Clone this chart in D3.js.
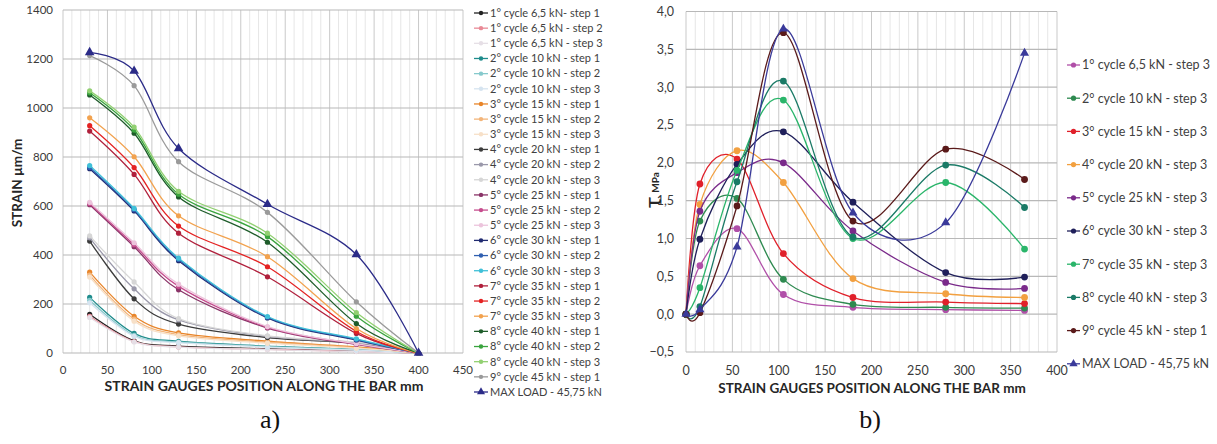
<!DOCTYPE html>
<html><head><meta charset="utf-8">
<script src="https://cdn.jsdelivr.net/npm/d3@7"></script>
<style>
body{margin:0;background:#fff;}
svg text{font-family:Lato,"Open Sans",sans-serif;}
</style></head>
<body><svg id="c" width="1217" height="444"></svg>
<script>
// ---------- LEFT CHART DATA (a) ----------
const leftPositions = [30, 80, 130, 230, 330, 400];
const leftNames = [
 "1° cycle 6,5 kN- step 1","1° cycle 6,5 kN - step 2","1° cycle 6,5 kN - step 3",
 "2° cycle 10 kN - step 1","2° cycle 10 kN - step 2","2° cycle 10 kN - step 3",
 "3° cycle 15 kN - step 1","3° cycle 15 kN - step 2","3° cycle 15 kN - step 3",
 "4° cycle 20 kN - step 1","4° cycle 20 kN - step 2","4° cycle 20 kN - step 3",
 "5° cycle 25 kN - step 1","5° cycle 25 kN - step 2","5° cycle 25 kN - step 3",
 "6° cycle 30 kN - step 1","6° cycle 30 kN - step 2","6° cycle 30 kN - step 3",
 "7° cycle 35 kN - step 1","7° cycle 35 kN - step 2","7° cycle 35 kN - step 3",
 "8° cycle 40 kN - step 1","8° cycle 40 kN - step 2","8° cycle 40 kN - step 3",
 "9° cycle 45 kN - step 1","MAX LOAD - 45,75 kN"];
const leftValues = [
 [158, 50, 28, 17, 8, 0],
 [150, 47, 25, 15, 7, 0],
 [145, 45, 24, 14, 6, 0],
 [227, 80, 48, 28, 15, 0],
 [215, 72, 45, 26, 14, 0],
 [205, 68, 42, 24, 12, 0],
 [330, 150, 82, 48, 25, 0],
 [318, 138, 75, 44, 22, 0],
 [310, 130, 70, 40, 20, 0],
 [457, 221, 118, 63, 40, 0],
 [470, 262, 135, 68, 42, 0],
 [478, 290, 140, 70, 44, 0],
 [605, 434, 258, 102, 35, 0],
 [610, 442, 272, 105, 37, 0],
 [615, 450, 281, 108, 38, 0],
 [752, 580, 377, 143, 53, 0],
 [757, 585, 382, 146, 55, 0],
 [765, 590, 387, 149, 58, 0],
 [906, 729, 489, 311, 80, 0],
 [928, 757, 518, 352, 88, 0],
 [960, 801, 560, 393, 100, 0],
 [1053, 897, 637, 452, 120, 0],
 [1062, 910, 648, 475, 150, 0],
 [1070, 922, 660, 489, 165, 0],
 [1214, 1091, 781, 574, 209, 0],
 [1227, 1151, 835, 607, 402, 0]];
const leftColors = [
 "#222222","#e98a96","#e6dfe6",
 "#1f8c8c","#86c9cc","#d6e4f0",
 "#e8852a","#f3b57a","#f7e0c8",
 "#3c3c3c","#9a98aa","#d6d6d6",
 "#8a3468","#c64d8e","#ecc4dc",
 "#1f2a70","#2f5fb0","#3fc0d8",
 "#b0203c","#e42222","#f2a24e",
 "#1e5c2a","#3aa43e","#92d072",
 "#9a9a9a","#2b2b88"];
const leftXTicks = [0,50,100,150,200,250,300,350,400,450];
const leftYTicks = [0,200,400,600,800,1000,1200,1400];

// ---------- RIGHT CHART DATA (b) ----------
const rightPositions = [0, 15, 55, 105, 180, 280, 365];
const rightNames = ["1° cycle 6,5 kN - step 3","2° cycle 10 kN - step 3","3° cycle 15 kN - step 3",
 "4° cycle 20 kN - step 3","5° cycle 25 kN - step 3","6° cycle 30 kN - step 3","7° cycle 35 kN - step 3",
 "8° cycle 40 kN - step 3","9° cycle 45 kN - step 1","MAX LOAD - 45,75 kN"];
const rightValues = [
 [0, 0.64, 1.13, 0.26, 0.09, 0.06, 0.05],
 [0, 1.23, 1.53, 0.46, 0.13, 0.09, 0.08],
 [0, 1.72, 2.05, 0.80, 0.22, 0.16, 0.14],
 [0, 1.45, 2.16, 1.74, 0.47, 0.27, 0.22],
 [0, 1.36, 1.87, 2.00, 1.10, 0.42, 0.34],
 [0, 0.99, 1.98, 2.41, 1.48, 0.55, 0.49],
 [0, 0.35, 1.90, 2.83, 1.00, 1.74, 0.86],
 [0, 0.10, 1.75, 3.08, 1.02, 1.97, 1.41],
 [0, 0.02, 1.43, 3.72, 1.23, 2.18, 1.78],
 [0, 0.06, 0.89, 3.77, 1.34, 1.21, 3.45]];
const rightColors = ["#b04fa8","#2e8a50","#e0202a","#f2a040","#7a2a8a","#1f1f5a","#2ab56a","#1a7a66","#5a1a1a","#3a3a9a"];
const rightXTicks = [0,50,100,150,200,250,300,350,400];
const rightYTicks = [-0.5,0,0.5,1,1.5,2,2.5,3,3.5,4];

const svg = d3.select("#c");
const curve = d3.curveCardinal.tension(0);

function gridAndAxes(x, y, xDom, xTicks, yTicks, fmtY, opts){
  const g = svg.append("g");
  const [y0, y1] = y.range();
  const [x0, x1] = x.range();
  g.selectAll("line.vm").data(d3.range(xDom[0], xDom[1]+0.1, 10)).join("line")
   .attr("x1", d=>x(d)).attr("x2", d=>x(d)).attr("y1", y0).attr("y2", y1)
   .attr("stroke", d=> d%50===0 ? "#c9c9c9" : "#e6e6e6").attr("stroke-width", 1);
  g.selectAll("line.h").data(yTicks).join("line")
   .attr("x1", x0).attr("x2", x1).attr("y1", d=>y(d)).attr("y2", d=>y(d))
   .attr("stroke", "#b8b8b8").attr("stroke-width", 1.2);
  g.selectAll("text.yt").data(yTicks).join("text")
   .attr("x", opts.yLabX).attr("y", d=>y(d)).attr("dy","0.35em").attr("text-anchor","end")
   .attr("font-size", opts.fs).attr("fill","#3a3a3a").text(fmtY);
  g.selectAll("text.xt").data(xTicks).join("text")
   .attr("x", d=>x(d)).attr("y", opts.xLabY).attr("text-anchor","middle")
   .attr("font-size", opts.fs).attr("fill","#3a3a3a").text(d=>d);
}

// ---------- LEFT ----------
const xL = d3.scaleLinear([0,450],[63,463]);
const yL = d3.scaleLinear([0,1400],[353,10]);
gridAndAxes(xL, yL, [0,450], leftXTicks, leftYTicks, d=>d, {yLabX:53, xLabY:374, fs:11.5});

const lineL = d3.line().x((d,i)=>xL(leftPositions[i])).y(d=>yL(d)).curve(curve);
const tri = d3.symbol().type(d3.symbolTriangle);
leftValues.forEach((vals, k)=>{
  const g = svg.append("g");
  g.append("path").attr("d", lineL(vals)).attr("fill","none")
   .attr("stroke", leftColors[k]).attr("stroke-width", 1.3);
  if (k === leftValues.length-1){
    g.selectAll("path.m").data(vals).join("path")
     .attr("d", tri.size(40)()).attr("transform",(d,i)=>`translate(${xL(leftPositions[i])},${yL(d)})`)
     .attr("fill", leftColors[k]);
  } else {
    g.selectAll("circle").data(vals).join("circle")
     .attr("cx",(d,i)=>xL(leftPositions[i])).attr("cy", d=>yL(d)).attr("r", 2.6)
     .attr("fill", leftColors[k]);
  }
});
const legL = svg.append("g");
leftNames.forEach((n,k)=>{
  const yy = 13 + k*15.16;
  legL.append("line").attr("x1",474).attr("x2",488).attr("y1",yy).attr("y2",yy)
   .attr("stroke", leftColors[k]).attr("stroke-width",1.3);
  if (k === leftNames.length-1)
    legL.append("path").attr("d", tri.size(28)()).attr("transform",`translate(481,${yy})`).attr("fill",leftColors[k]);
  else
    legL.append("circle").attr("cx",481).attr("cy",yy).attr("r",2.2).attr("fill",leftColors[k]);
  legL.append("text").attr("x",490).attr("y",yy).attr("dy","0.35em").attr("font-size",11)
   .attr("fill","#404040").text(n);
});
svg.append("text").attr("transform","translate(22,183) rotate(-90)").attr("text-anchor","middle")
 .attr("font-size",13.5).attr("font-weight","bold").attr("fill","#262626").text("STRAIN  µm/m");
svg.append("text").attr("x",264).attr("y",391).attr("text-anchor","middle")
 .attr("font-size",14).attr("font-weight","bold").attr("fill","#262626").text("STRAIN GAUGES POSITION ALONG THE BAR mm");
svg.append("text").attr("x",270).attr("y",428).attr("text-anchor","middle")
 .style("font-family","'Liberation Serif',serif").attr("font-size",26).attr("fill","#111").text("a)");

// ---------- RIGHT ----------
const xR = d3.scaleLinear([0,400],[686,1057]);
const yR = d3.scaleLinear([-0.5,4],[352,11.5]);
gridAndAxes(xR, yR, [0,400], rightXTicks, rightYTicks, d=>d3.format(".1f")(d).replace(".",","), {yLabX:674, xLabY:375, fs:12.5});

const lineR = d3.line().x((d,i)=>xR(rightPositions[i])).y(d=>yR(d)).curve(curve);
rightValues.forEach((vals,k)=>{
  const g = svg.append("g");
  g.append("path").attr("d", lineR(vals)).attr("fill","none")
   .attr("stroke", rightColors[k]).attr("stroke-width", 1.3);
  if (k === rightValues.length-1){
    g.selectAll("path.m").data(vals).join("path")
     .attr("d", tri.size(36)()).attr("transform",(d,i)=>`translate(${xR(rightPositions[i])},${yR(d)})`)
     .attr("fill", rightColors[k]);
  } else {
    g.selectAll("circle").data(vals).join("circle")
     .attr("cx",(d,i)=>xR(rightPositions[i])).attr("cy", d=>yR(d)).attr("r", 3.4)
     .attr("fill", rightColors[k]);
  }
});
const legR = svg.append("g");
rightNames.forEach((n,k)=>{
  const yy = 65 + k*33.2;
  legR.append("line").attr("x1",1067).attr("x2",1080).attr("y1",yy).attr("y2",yy)
   .attr("stroke", rightColors[k]).attr("stroke-width",1.3);
  if (k === rightNames.length-1)
    legR.append("path").attr("d", tri.size(30)()).attr("transform",`translate(1073.5,${yy})`).attr("fill",rightColors[k]);
  else
    legR.append("circle").attr("cx",1073.5).attr("cy",yy).attr("r",2.6).attr("fill",rightColors[k]);
  legR.append("text").attr("x",1082).attr("y",yy).attr("dy","0.35em").attr("font-size",12.5)
   .attr("fill","#404040").text(n);
});
const tl = svg.append("text").attr("transform","translate(661,190) rotate(-90)").attr("text-anchor","middle").attr("fill","#262626");
tl.append("tspan").attr("font-size",24).text("τ");
tl.append("tspan").attr("font-size",10).attr("font-weight","bold").attr("dx",4).attr("dy",-2).text("MPa");
svg.append("text").attr("x",872).attr("y",393).attr("text-anchor","middle")
 .attr("font-size",13.5).attr("font-weight","bold").attr("fill","#262626").text("STRAIN GAUGES POSITION ALONG THE BAR mm");
svg.append("text").attr("x",870).attr("y",428).attr("text-anchor","middle")
 .style("font-family","'Liberation Serif',serif").attr("font-size",26).attr("fill","#111").text("b)");
</script></body></html>
